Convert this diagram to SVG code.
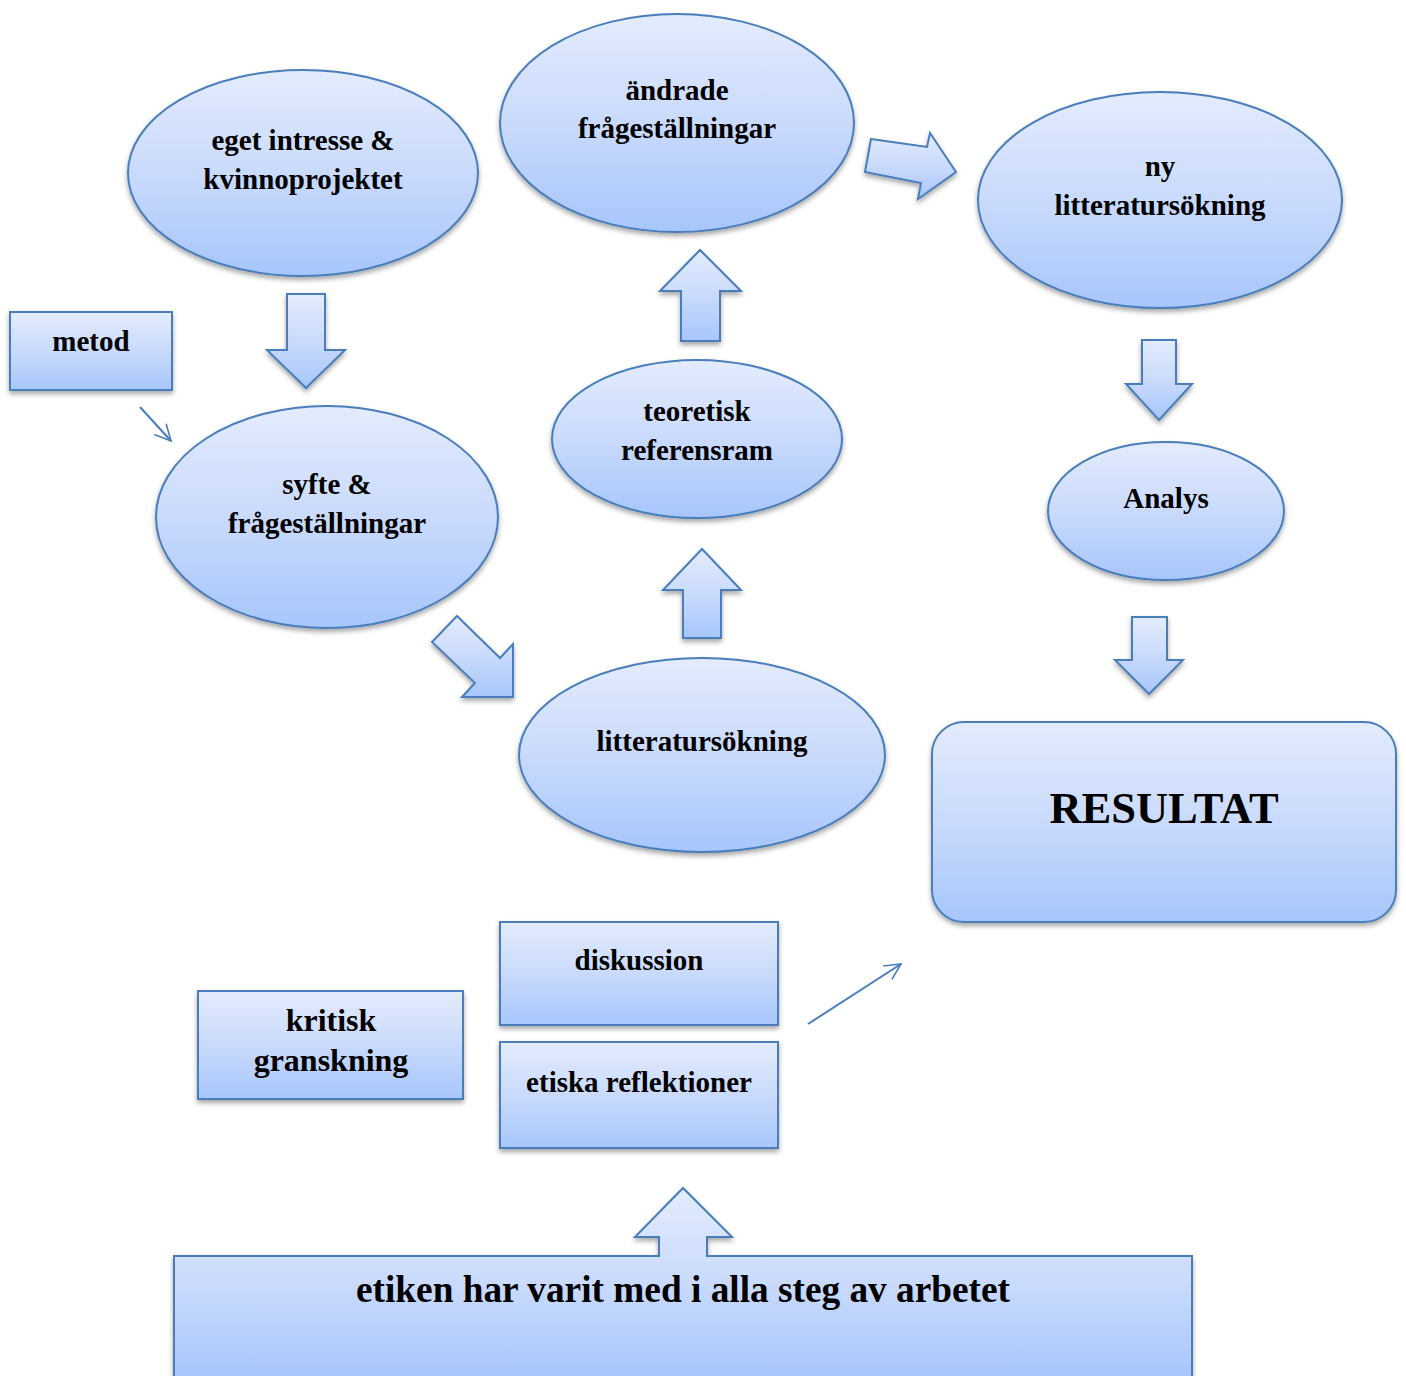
<svg xmlns="http://www.w3.org/2000/svg" width="1406" height="1376" viewBox="0 0 1406 1376">
<defs>
<linearGradient id="g" x1="0" y1="0" x2="0" y2="1">
<stop offset="0" stop-color="#e4ecfd"/>
<stop offset="0.5" stop-color="#c9dafc"/>
<stop offset="1" stop-color="#a7c6fb"/>
</linearGradient>
<filter id="sh" x="-10%" y="-10%" width="120%" height="130%">
<feDropShadow dx="0" dy="3" stdDeviation="2.5" flood-color="#000" flood-opacity="0.35"/>
</filter>
<marker id="oa" viewBox="0 0 20 20" refX="18" refY="10" markerWidth="20" markerHeight="20" markerUnits="userSpaceOnUse" orient="auto">
<path d="M2,2 L18,10 L2,18" fill="none" stroke="#4a7ebb" stroke-width="1.6"/>
</marker>
</defs>
<style>
.s{fill:url(#g);stroke:#4a7ebb;stroke-width:2;filter:url(#sh)}
.t{font-family:"Liberation Serif","Times New Roman",serif;font-weight:bold;fill:#000;text-anchor:middle;font-size:29px}
.c{fill:none;stroke:#4a7ebb;stroke-width:2;marker-end:url(#oa)}
</style>
<rect width="1406" height="1376" fill="#fff"/>

<g id="block-arrows">
<path class="s" d="M287,294 H325 V350 H345 L306,388 L267,350 H287 Z"/>
<path class="s" d="M681,341 V291 H660 L700,250 L741,291 H720 V341 Z"/>
<path class="s" d="M683,638 V590 H663 L702,549 L741,590 H721 V638 Z"/>
<path class="s" d="M1142,340 H1176 V384 H1192 L1159,420 L1126,384 H1142 Z"/>
<path class="s" d="M1132,617 H1167 V660 H1183 L1149,694 L1115,660 H1132 Z"/>
<path class="s" d="M457,616 L500,658 L513,644 L513,697 L462,697 L475,683 L432,642 Z"/>
<path class="s" d="M871,139 L927,147 L930,133 L956,172 L918,199 L921,183 L865,172 Z"/>
</g>

<g id="connectors">
<line class="c" x1="140" y1="407" x2="171" y2="441"/>
<line class="c" x1="808" y1="1024" x2="901" y2="964"/>
</g>

<g id="eget">
<ellipse class="s" cx="303" cy="173" rx="175" ry="103"/>
<text class="t" x="303" y="150">eget intresse &amp;</text>
<text class="t" x="303" y="189">kvinnoprojektet</text>
</g>
<g id="andrade">
<ellipse class="s" cx="677" cy="123" rx="177" ry="109"/>
<text class="t" x="677" y="100">ändrade</text>
<text class="t" x="677" y="138">frågeställningar</text>
</g>
<g id="ny">
<ellipse class="s" cx="1160" cy="200" rx="182" ry="108"/>
<text class="t" x="1160" y="176">ny</text>
<text class="t" x="1160" y="215">litteratursökning</text>
</g>
<g id="metod">
<rect class="s" x="10" y="312" width="162" height="78"/>
<text class="t" x="91" y="351">metod</text>
</g>
<g id="syfte">
<ellipse class="s" cx="327" cy="517" rx="171" ry="111"/>
<text class="t" x="327" y="494">syfte &amp;</text>
<text class="t" x="327" y="533">frågeställningar</text>
</g>
<g id="teoretisk">
<ellipse class="s" cx="697" cy="439" rx="145" ry="79"/>
<text class="t" x="697" y="421">teoretisk</text>
<text class="t" x="697" y="460">referensram</text>
</g>
<g id="analys">
<ellipse class="s" cx="1166" cy="511" rx="118" ry="69"/>
<text class="t" x="1166" y="508">Analys</text>
</g>
<g id="litteratursokning">
<ellipse class="s" cx="702" cy="755" rx="183" ry="97"/>
<text class="t" x="702" y="751">litteratursökning</text>
</g>
<g id="resultat">
<rect class="s" x="932" y="722" width="464" height="200" rx="32"/>
<text class="t" x="1164" y="823" style="font-size:44.5px">RESULTAT</text>
</g>
<g id="diskussion">
<rect class="s" x="500" y="922" width="278" height="103"/>
<text class="t" x="639" y="970">diskussion</text>
</g>
<g id="etiska">
<rect class="s" x="500" y="1042" width="278" height="106"/>
<text class="t" x="639" y="1092">etiska reflektioner</text>
</g>
<g id="kritisk">
<rect class="s" x="198" y="991" width="265" height="108"/>
<text class="t" x="331" y="1031" style="font-size:32px">kritisk</text>
<text class="t" x="331" y="1071" style="font-size:32px">granskning</text>
</g>
<g id="etiken">
<path class="s" d="M174,1380 V1256 H659 V1237 H635 L683,1188 L732,1237 H707 V1256 H1192 V1380"/>
<text class="t" x="683" y="1302" style="font-size:37.3px">etiken har varit med i alla steg av arbetet</text>
</g>
</svg>
